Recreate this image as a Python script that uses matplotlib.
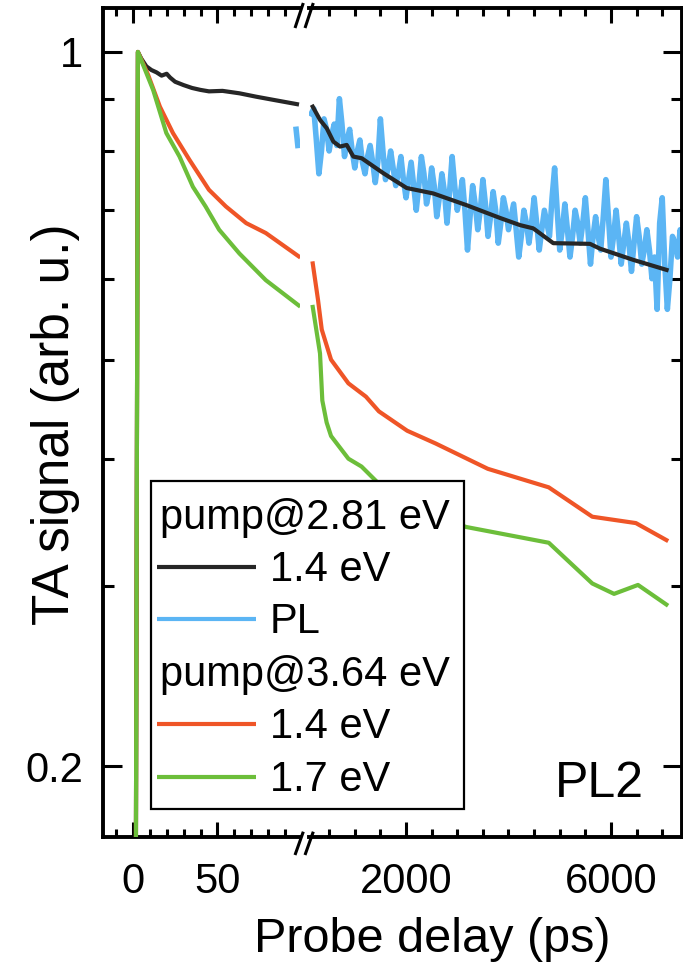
import matplotlib
matplotlib.use("Agg")
import matplotlib.pyplot as plt
from matplotlib.ticker import FixedLocator, FixedFormatter, NullFormatter
from matplotlib.patches import Rectangle

plt.rcParams['font.family'] = ['Liberation Sans', 'DejaVu Sans']

# ---------------- data ----------------
# short-delay panel (ps)
t_short_black = [1.5, 3, 5, 8, 11, 14, 17, 20, 22, 25, 30, 35, 40, 45, 53, 63, 73, 82.5, 97]
v_short_black = [0.10, 1.0, 0.985, 0.968, 0.960, 0.955, 0.948, 0.952, 0.944, 0.935, 0.928, 0.922,
                 0.918, 0.915, 0.916, 0.911, 0.904, 0.898, 0.889]
t_short_pl = [96.5, 97.5]
v_short_pl = [0.84, 0.81]
t_short_red = [1.5, 3, 9, 16, 23.7, 33.5, 45, 55, 67, 78.6, 98]
v_short_red = [0.10, 1.0, 0.95, 0.884, 0.833, 0.784, 0.733, 0.706, 0.68, 0.665, 0.631]
t_short_green = [1.5, 3, 12, 19.8, 27.6, 35.5, 43, 51, 63, 78.6, 98]
v_short_green = [0.10, 1.0, 0.918, 0.833, 0.79, 0.738, 0.706, 0.67, 0.635, 0.598, 0.565]

# long-delay panel (ps)
t_long_black = [180, 322, 453, 583, 712, 843, 972, 1136, 1557, 2013, 2533, 3184, 3834, 4224,
                4484, 4874, 5590, 5785, 6435, 7085]
v_long_black = [0.884, 0.858, 0.842, 0.817, 0.808, 0.811, 0.790, 0.787, 0.761, 0.736, 0.727,
                0.708, 0.688, 0.677, 0.672, 0.650, 0.649, 0.642, 0.626, 0.612]
t_long_pl = [150, 200, 250, 300, 350, 400, 450, 500, 550, 600, 650, 700, 750, 800, 850, 900,
             950, 1000, 1050, 1100, 1150, 1200, 1250, 1300, 1350, 1400, 1450, 1500, 1550, 1600,
             1650, 1700, 1750, 1800, 1850, 1900, 1950, 2000, 2050, 2100, 2150, 2200, 2250, 2300,
             2350, 2400, 2450, 2500, 2550, 2600, 2650, 2700, 2750, 2800, 2850, 2900, 2950, 3000,
             3050, 3100, 3150, 3200, 3250, 3300, 3350, 3400, 3450, 3500, 3550, 3600, 3650, 3700,
             3750, 3800, 3850, 3900, 3950, 4000, 4050, 4100, 4150, 4200, 4250, 4300, 4350, 4400,
             4450, 4500, 4550, 4600, 4650, 4700, 4750, 4800, 4850, 4900, 4950, 5000, 5050, 5100,
             5150, 5200, 5250, 5300, 5350, 5400, 5450, 5500, 5550, 5600, 5650, 5700, 5750, 5800,
             5850, 5900, 5950, 6000, 6050, 6100, 6150, 6200, 6250, 6300, 6350, 6400, 6450, 6500,
             6550, 6600, 6650, 6700, 6750, 6800, 6850, 6900, 6950, 7000, 7050, 7100, 7150, 7200,
             7250, 7300, 7350, 7400]
v_long_pl = [0.87, 0.88, 0.82, 0.76, 0.80, 0.86, 0.84, 0.80, 0.83, 0.85, 0.81, 0.90, 0.85, 0.79,
             0.82, 0.84, 0.80, 0.77, 0.80, 0.82, 0.78, 0.76, 0.79, 0.81, 0.78, 0.745, 0.78, 0.86,
             0.80, 0.75, 0.77, 0.80, 0.77, 0.74, 0.76, 0.79, 0.75, 0.72, 0.75, 0.78, 0.74, 0.70,
             0.74, 0.79, 0.76, 0.71, 0.73, 0.77, 0.74, 0.69, 0.72, 0.76, 0.73, 0.68, 0.73, 0.79,
             0.74, 0.70, 0.72, 0.75, 0.70, 0.64, 0.69, 0.74, 0.71, 0.67, 0.70, 0.75, 0.71, 0.66,
             0.69, 0.73, 0.70, 0.65, 0.68, 0.72, 0.70, 0.67, 0.69, 0.71, 0.67, 0.63, 0.66, 0.70,
             0.68, 0.65, 0.68, 0.72, 0.68, 0.64, 0.67, 0.70, 0.68, 0.66, 0.72, 0.77, 0.70, 0.64,
             0.67, 0.71, 0.67, 0.63, 0.66, 0.70, 0.68, 0.65, 0.68, 0.72, 0.67, 0.62, 0.66, 0.69,
             0.66, 0.64, 0.69, 0.75, 0.69, 0.63, 0.66, 0.70, 0.66, 0.62, 0.65, 0.68, 0.65, 0.61,
             0.65, 0.69, 0.66, 0.62, 0.64, 0.67, 0.64, 0.60, 0.63, 0.56, 0.68, 0.72, 0.62, 0.56,
             0.60, 0.66, 0.65, 0.63, 0.67, 0.65]
t_long_red = [180, 283, 356, 537, 876, 1218, 1471, 2023, 2576, 3596, 4786, 5635, 6486, 7081]
v_long_red = [0.621, 0.572, 0.535, 0.50, 0.474, 0.460, 0.445, 0.426, 0.414, 0.391, 0.375,
              0.351, 0.346, 0.333]
t_long_green = [180, 322, 367, 451, 537, 876, 1132, 1471, 2236, 3171, 4786, 5635, 6060, 6527, 7081]
v_long_green = [0.563, 0.507, 0.456, 0.434, 0.421, 0.400, 0.393, 0.378, 0.357, 0.343, 0.331,
                0.302, 0.295, 0.301, 0.288]

y_major = [0.2, 1.0]
y_major_labels = ['0.2', '1']
y_minor = [0.3, 0.4, 0.5, 0.6, 0.7, 0.8, 0.9]
x1_major = [0, 50]
x1_major_labels = ['0', '50']
x1_minor = [-10, 10, 20, 30, 40, 60, 70, 80, 90]
x2_major = [2000, 6000]
x2_major_labels = ['2000', '6000']
x2_minor = [500, 1000, 1500, 2500, 3000, 3500, 4000, 4500, 5000, 5500, 6500, 7000]

legend_items = [('pump@2.81 eV', None), ('1.4 eV', 'black'), ('PL', 'pl'),
                ('pump@3.64 eV', None), ('1.4 eV', 'red'), ('1.7 eV', 'green')]

# ---------------- style ----------------
C = {'black': '#262626', 'pl': '#5BB5F4', 'red': '#EF5527', 'green': '#6CBE3A'}
LW = 3.0
W, H = 683, 967

fig = plt.figure(figsize=(W / 100, H / 100), dpi=100)


def frame(x0, y0, x1, y1):
    return [x0 / W, 1 - y1 / H, (x1 - x0) / W, (y1 - y0) / H]


ax1 = fig.add_axes(frame(102.7, 8, 299.5, 837))
ax2 = fig.add_axes(frame(309, 8, 681.7, 837), sharey=ax1)
ax1.set_yscale('log')
ax1.set_ylim(0.1706, 1.104)
ax1.set_xlim(-17.8, 98.5)
ax2.set_xlim(107, 7380)

ax1.plot(t_short_pl, v_short_pl, color=C['pl'], lw=4.0, zorder=2)
ax1.plot(t_short_black, v_short_black, color=C['black'], lw=LW, zorder=3)
ax1.plot(t_short_red, v_short_red, color=C['red'], lw=LW, zorder=4)
ax1.plot(t_short_green, v_short_green, color=C['green'], lw=LW, zorder=5)
ax2.plot(t_long_pl, v_long_pl, color=C['pl'], lw=4.0, zorder=2)
ax2.plot(t_long_black, v_long_black, color=C['black'], lw=LW, zorder=3)
ax2.plot(t_long_red, v_long_red, color=C['red'], lw=LW, zorder=4)
ax2.plot(t_long_green, v_long_green, color=C['green'], lw=LW, zorder=5)

for ax in (ax1, ax2):
    for s in ax.spines.values():
        s.set_linewidth(2.8)
    ax.yaxis.set_major_locator(FixedLocator(y_major))
    ax.yaxis.set_minor_locator(FixedLocator(y_minor))
    ax.yaxis.set_major_formatter(FixedFormatter(y_major_labels))
    ax.yaxis.set_minor_formatter(NullFormatter())
    ax.tick_params(axis='y', which='major', length=13.5, width=2.2, direction='in', pad=14,
                   labelsize=30)
    ax.tick_params(axis='y', which='minor', length=8, width=2.2, direction='in')
    ax.tick_params(axis='x', which='major', length=11, width=2.2, direction='in', pad=18,
                   labelsize=30, top=True)
    ax.tick_params(axis='x', which='minor', length=5.5, width=2.2, direction='in', top=True)

ax1.spines['right'].set_visible(False)
ax2.spines['left'].set_visible(False)
ax1.tick_params(axis='y', which='both', left=True, right=False)
ax2.tick_params(axis='y', which='both', left=False, right=True, labelleft=False, labelright=False)

ax1.xaxis.set_major_locator(FixedLocator(x1_major))
ax1.xaxis.set_major_formatter(FixedFormatter(x1_major_labels))
ax1.xaxis.set_minor_locator(FixedLocator(x1_minor))
ax2.xaxis.set_major_locator(FixedLocator(x2_major))
ax2.xaxis.set_major_formatter(FixedFormatter(x2_major_labels))
ax2.xaxis.set_minor_locator(FixedLocator(x2_minor))

ax2.text(0.778, 0.0483, 'PL2', transform=ax2.transAxes, ha='center', va='baseline',
         fontsize=36)

fig.text(55.5 / W, 1 - 424.5 / H, 'TA signal (arb. u.)', rotation=90, ha='center',
         va='center', fontsize=37)
fig.text(432.5 / W, 1 - 952 / H, 'Probe delay (ps)', ha='center', va='baseline', fontsize=35)

# overlay in pixel coordinates: axis-break marks and legend
ov = fig.add_axes([0, 0, 1, 1], zorder=10)
ov.set_xlim(0, W)
ov.set_ylim(H, 0)
ov.axis('off')
ov.patch.set_alpha(0)

for xa in (295, 305):
    ov.plot([xa, xa + 8.3], [28, 3], color='black', lw=2.2, solid_capstyle='butt')
    ov.plot([xa, xa + 8.3], [855, 831.7], color='black', lw=2.2, solid_capstyle='butt')

ov.add_patch(Rectangle((151, 481), 313, 328, facecolor='white', edgecolor='black', lw=1.6))
baselines = [529, 581, 633, 686, 738.5, 791]
for (label, key), yb in zip(legend_items, baselines):
    if key is None:
        ov.text(160, yb, label, ha='left', va='baseline', fontsize=30)
    else:
        yl = yb - 14.5
        ov.plot([157, 256], [yl, yl], color=C[key], lw=LW, solid_capstyle='butt')
        ov.text(270, yb, label, ha='left', va='baseline', fontsize=30)

fig.savefig('out.png', dpi=100)
